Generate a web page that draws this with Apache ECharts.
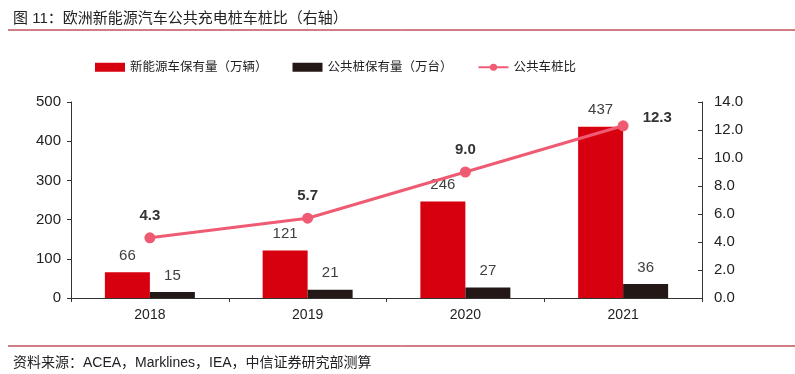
<!DOCTYPE html>
<html><head><meta charset="utf-8">
<script src="https://cdn.jsdelivr.net/npm/echarts@6/dist/echarts.min.js"></script>
<style>html,body{margin:0;padding:0;background:#fff}#c{width:795px;height:374px}</style>
</head><body><div id="c"></div>
<script>
var categories = ['2018', '2019', '2020', '2021'];
var evStock = [66, 121, 246, 437];
var chargerStock = [15, 21, 27, 36];
var ratio = [4.3, 5.7, 9.0, 12.3];
var leftTicks = [0, 100, 200, 300, 400, 500];
var rightTicks = [0, 2, 4, 6, 8, 10, 12, 14];

var cjk = '"Liberation Sans", "Noto Sans CJK SC", sans-serif';
var chart = echarts.init(document.getElementById('c'));
chart.setOption({
  animation: false,
  textStyle: {fontFamily: cjk},
  title: [
    {text: '图 11：欧洲新能源汽车公共充电桩车桩比（右轴）', left: 8, top: 6,
     textStyle: {fontSize: 15, fontWeight: 'normal', color: '#222', fontFamily: cjk}},
    {text: '资料来源：ACEA，Marklines，IEA，中信证券研究部测算', left: 8, top: 351,
     textStyle: {fontSize: 14, fontWeight: 'normal', color: '#222', fontFamily: cjk}}
  ],
  graphic: [
    {type: 'line', shape: {x1: 8, y1: 30, x2: 795, y2: 30}, style: {stroke: '#a0000a', lineWidth: 1}},
    {type: 'line', shape: {x1: 8, y1: 346, x2: 795, y2: 346}, style: {stroke: '#a0000a', lineWidth: 1}}
  ],
  legend: {
    top: 56, left: 90, itemGap: 25, itemWidth: 30, itemHeight: 9,
    textStyle: {fontSize: 12.5, color: '#222', fontFamily: cjk},
    data: [
      {name: '新能源车保有量（万辆）', icon: 'rect'},
      {name: '公共桩保有量（万台）', icon: 'rect'},
      {name: '公共车桩比'}
    ]
  },
  grid: {left: 71, right: 93, top: 102, bottom: 76},
  xAxis: {
    type: 'category', data: categories,
    axisLine: {lineStyle: {color: '#333'}},
    axisTick: {show: true, length: 4, lineStyle: {color: '#333'}},
    axisLabel: {fontSize: 14, color: '#222', margin: 10}
  },
  yAxis: [
    {type: 'value', min: 0, max: 500, interval: 100, splitLine: {show: false},
     axisLine: {show: true, lineStyle: {color: '#333'}},
     axisTick: {show: true, length: 4, lineStyle: {color: '#333'}},
     axisLabel: {fontSize: 15, color: '#222', margin: 10}},
    {type: 'value', min: 0, max: 14, interval: 2, splitLine: {show: false},
     axisLine: {show: true, lineStyle: {color: '#333'}},
     axisTick: {show: true, length: 4, inside: true, lineStyle: {color: '#333'}},
     axisLabel: {fontSize: 15, color: '#222', margin: 12,
                 formatter: function (v) { return v.toFixed(1); }}}
  ],
  series: [
    {name: '新能源车保有量（万辆）', type: 'bar', data: evStock, barWidth: 45, barGap: '0%',
     itemStyle: {color: '#d7000f'},
     label: {show: true, position: 'top', distance: 9, fontSize: 15, color: '#404040'}},
    {name: '公共桩保有量（万台）', type: 'bar', data: chargerStock, barWidth: 45, barGap: '0%',
     itemStyle: {color: '#231815'},
     label: {show: true, position: 'top', distance: 9, fontSize: 15, color: '#404040'}},
    {name: '公共车桩比', type: 'line', yAxisIndex: 1, data: ratio.map(function (v, i) {
        return i === ratio.length - 1
          ? {value: v, label: {position: 'right', distance: 14, offset: [0, -8]}}
          : v;
      }),
     symbol: 'circle', symbolSize: 11,
     lineStyle: {color: '#ef5b73', width: 3}, itemStyle: {color: '#ef5b73'},
     label: {show: true, position: 'top', distance: 9, fontSize: 15, fontWeight: 'bold', color: '#333',
             formatter: function (p) { return p.value.toFixed(1); }}}
  ]
});
</script></body></html>
